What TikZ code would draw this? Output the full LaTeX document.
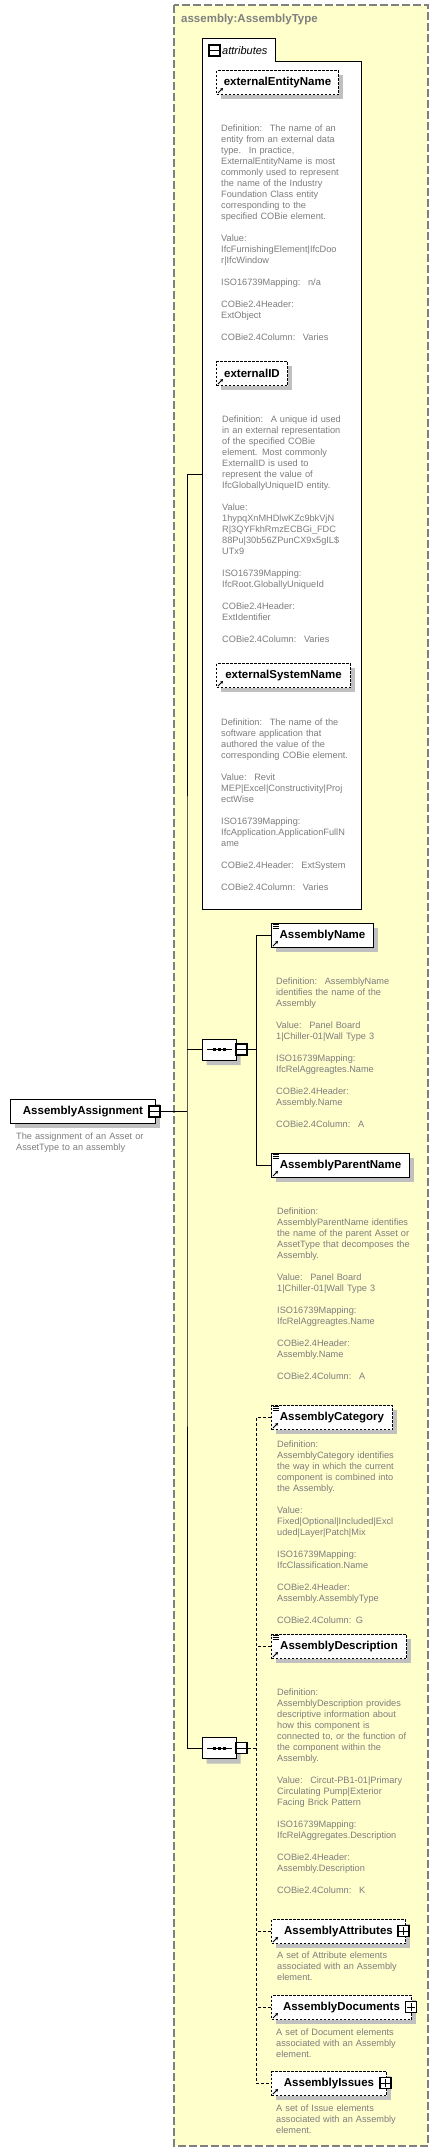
\documentclass[tikz,border=0pt]{standalone}
\usepackage{fontspec}
\setmainfont{Liberation Sans}
\usetikzlibrary{positioning, shadows, shapes.misc, arrows.meta}
\definecolor{schemayellow}{RGB}{255,255,204}
\definecolor{schemagray}{RGB}{128,128,128}
\definecolor{notegray}{RGB}{125,125,125}
\definecolor{shadowgray}{RGB}{192,192,192}
\tikzset{
  elem/.style={draw, fill=white, line width=1pt, inner sep=0pt, anchor=north west,
    font=\fontsize{11.5}{13}\selectfont\bfseries,
    general shadow={fill=shadowgray, shadow xshift=4pt, shadow yshift=-4pt}},
  optelem/.style={elem, dash pattern=on 2.5pt off 1.5pt},
  note/.style={anchor=base west, inner sep=0pt, text width=170pt, align=left,
    text=notegray, font=\fontsize{9.2}{11}\selectfont},
  toggle/.style={draw, fill=white, line width=1.3pt, minimum size=11pt, inner sep=0pt},
  compositor/.style={chamfered rectangle, chamfered rectangle xsep=6pt, draw, fill=white,
    line width=1pt, minimum width=34pt, minimum height=21pt, inner sep=0pt, anchor=west,
    general shadow={fill=shadowgray, shadow xshift=4pt, shadow yshift=-5pt}},
  link/.style={line width=1pt},
  optlink/.style={line width=1pt, dash pattern=on 3pt off 2pt},
  refarrow/.style={line width=0.9pt, -{Stealth[length=3pt,width=3.5pt]}}
}
\begin{document}
\begin{tikzpicture}[x=1pt, y=-1pt]
        \useasboundingbox (0,0) rectangle (439,2152);
        \draw[fill=schemayellow, draw=schemagray, line width=1.3pt, dash pattern=on 8pt off 3pt] (174,5) rectangle (428,2146);
        \node[anchor=base west, inner sep=0pt, text=schemagray, font=\fontsize{11.5}{13}\selectfont\bfseries] (typename) at (181,23) {assembly:AssemblyType};

        \draw[fill=white, line width=1pt] (202,38) -- (275,38) -- (275,61) -- (361,61) -- (361,909) -- (202,909) -- cycle;
        \coordinate (attrin) at (202,474);
        \node[toggle] (attrm) at (214.5,50.5) {};
        \node[anchor=base west, inner sep=0pt, font=\fontsize{11}{13}\selectfont\itshape] (attrlabel) at (222,54) {attributes};

        \node[optelem, minimum width=122pt, minimum height=24pt] (extent) at (216,70) {externalEntityName};
        \node[note] (extentnote) at (221,131) {Definition:~ The name of an\\entity from an external data\\type.~ In practice,\\ExternalEntityName is most\\commonly used to represent\\the name of the Industry\\Foundation Class entity\\corresponding to the\\specified COBie element.\\[11pt]Value:\\IfcFurnishingElement|IfcDoo\\r|IfcWindow\\[11pt]ISO16739Mapping:~ n/a\\[11pt]COBie2.4Header:\\ExtObject\\[11pt]COBie2.4Column:~ Varies};

        \node[optelem, minimum width=71pt, minimum height=24pt] (extid) at (216,361) {externalID};
        \node[note] (extidnote) at (222,422) {Definition:~ A unique id used\\in an external representation\\of the specified COBie\\element. Most commonly\\ExternalID is used to\\represent the value of\\IfcGloballyUniqueID entity.\\[11pt]Value:\\1hypqXnMHDlwKZc9bkVjN\\R|3QYFkhRmzECBGi\_FDC\\88Pu|30b56ZPunCX9x5gIL\$\\UTx9\\[11pt]ISO16739Mapping:\\IfcRoot.GloballyUniqueId\\[11pt]COBie2.4Header:\\ExtIdentifier\\[11pt]COBie2.4Column:~ Varies};

        \node[optelem, minimum width=134pt, minimum height=24pt] (extsys) at (216,663) {externalSystemName};
        \node[note] (extsysnote) at (221,725) {Definition:~ The name of the\\software application that\\authored the value of the\\corresponding COBie element.\\[11pt]Value:~ Revit\\MEP|Excel|Constructivity|Proj\\ectWise\\[11pt]ISO16739Mapping:\\IfcApplication.ApplicationFullN\\ame\\[11pt]COBie2.4Header:~ ExtSystem\\[11pt]COBie2.4Column:~ Varies};

        \node[elem, minimum width=145pt, minimum height=24pt] (assign) at (10,1099) {AssemblyAssignment};
        \node[toggle] (assignm) at (154.5,1111.5) {};
        \node[note] (assignnote) at (16,1139) {The assignment of an Asset or\\AssetType to an assembly};
        \coordinate (spine) at (187,1111.5);

        \node[compositor] (seq1) at (202,1049.5) {};
        \node[toggle] (seq1m) at (241.5,1049.5) {};
        \node[compositor] (seq2) at (202,1748) {};
        \node[toggle] (seq2m) at (241.5,1748) {};

        \node[elem, minimum width=102pt, minimum height=24pt] (aname) at (271,923) {AssemblyName};
        \node[note] (anamenote) at (276,984) {Definition:~ AssemblyName\\identifies the name of the\\Assembly\\[11pt]Value:~ Panel Board\\1|Chiller-01|Wall Type 3\\[11pt]ISO16739Mapping:\\IfcRelAggreagtes.Name\\[11pt]COBie2.4Header:\\Assembly.Name\\[11pt]COBie2.4Column:~ A};

        \node[elem, minimum width=138pt, minimum height=24pt] (apname) at (271,1153) {AssemblyParentName};
        \node[note] (apnamenote) at (277,1214) {Definition:\\AssemblyParentName identifies\\the name of the parent Asset or\\AssetType that decomposes the\\Assembly.\\[11pt]Value:~ Panel Board\\1|Chiller-01|Wall Type 3\\[11pt]ISO16739Mapping:\\IfcRelAggreagtes.Name\\[11pt]COBie2.4Header:\\Assembly.Name\\[11pt]COBie2.4Column:~ A};

        \node[optelem, minimum width=121pt, minimum height=24pt] (acat) at (271,1405) {AssemblyCategory};
        \node[note] (acatnote) at (277,1447) {Definition:\\AssemblyCategory identifies\\the way in which the current\\component is combined into\\the Assembly.\\[11pt]Value:\\Fixed|Optional|Included|Excl\\uded|Layer|Patch|Mix\\[11pt]ISO16739Mapping:\\IfcClassification.Name\\[11pt]COBie2.4Header:\\Assembly.AssemblyType\\[11pt]COBie2.4Column: G};

        \node[optelem, minimum width=135pt, minimum height=24pt] (adesc) at (271,1634) {AssemblyDescription};
        \node[note] (adescnote) at (277,1695) {Definition:\\AssemblyDescription provides\\descriptive information about\\how this component is\\connected to, or the function of\\the component within the\\Assembly.\\[11pt]Value:~ Circut-PB1-01|Primary\\Circulating Pump|Exterior\\Facing Brick Pattern\\[11pt]ISO16739Mapping:\\IfcRelAggregates.Description\\[11pt]COBie2.4Header:\\Assembly.Description\\[11pt]COBie2.4Column:~ K};

        \node[optelem, minimum width=134pt, minimum height=24pt] (aattr) at (271,1919) {AssemblyAttributes};
        \node[toggle] (aattrp) at (403.5,1931) {};
        \node[note] (aattrnote) at (277,1958) {A set of Attribute elements\\associated with an Assembly\\element.};

        \node[optelem, minimum width=140pt, minimum height=24pt] (adoc) at (271,1995) {AssemblyDocuments};
        \node[toggle] (adocp) at (411,2007) {};
        \node[note] (adocnote) at (276,2035) {A set of Document elements\\associated with an Assembly\\element.};

        \node[optelem, minimum width=115pt, minimum height=24pt] (aiss) at (271,2071) {AssemblyIssues};
        \node[toggle] (aissp) at (385.5,2083) {};
        \node[note] (aissnote) at (276,2111) {A set of Issue elements\\associated with an Assembly\\element.};

        \foreach \t in {attrm,assignm,seq1m,seq2m}
            \draw[line width=1pt] ([xshift=2pt]\t.west) -- ([xshift=-2pt]\t.east);
        \foreach \t in {aattrp,adocp,aissp} {
            \draw[line width=1pt] ([xshift=2pt]\t.west) -- ([xshift=-2pt]\t.east);
            \draw[line width=1pt] ([yshift=2pt]\t.south) -- ([yshift=-2pt]\t.north);
        }
        \foreach \q in {seq1,seq2} {
            \draw[line width=1pt] ([xshift=5pt]\q.west) -- ([xshift=-5pt]\q.east);
            \foreach \s in {-5,0,5}
                \fill ([xshift=\s pt]\q.center) +(-1.5,-1.5) rectangle +(1.5,1.5);
        }
        \foreach \n in {extent,extid,extsys,aname,apname,acat,adesc,aattr,adoc,aiss}
            \draw[refarrow] ([shift={(2pt,2pt)}]\n.south west) -- ++(5,-5);
        \foreach \n in {aname,apname,acat,adesc}
            \foreach \d in {1.5,3.5,5.5}
                \draw[line width=0.8pt] ([shift={(1.5pt,-\d pt)}]\n.north west) -- ++(6,0);

        \draw[link] (assignm.east) -- (spine);
        \draw[link] (attrin) -| (spine) |- (seq2.west);
        \draw[link] (seq1.west) -- (seq1.west -| spine);
        \draw[link] (seq1m.east) -- ++(9,0) coordinate (b1);
        \draw[link] (aname.west) -| (b1) |- (apname.west);
        \draw[optlink] (seq2m.east) -- ++(9,0) coordinate (b2);
        \draw[optlink] (acat.west) -| (b2) |- (aiss.west);
        \foreach \n in {adesc,aattr,adoc}
            \draw[optlink] (\n.west) -- (\n.west -| b2);
\end{tikzpicture}
\end{document}
